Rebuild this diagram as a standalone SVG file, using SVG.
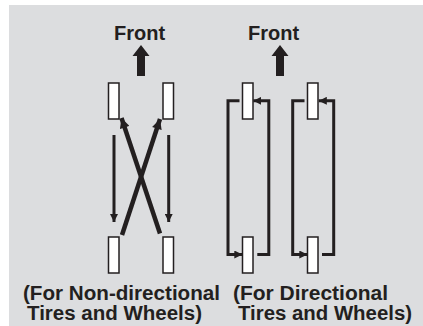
<svg xmlns="http://www.w3.org/2000/svg" width="423" height="326" viewBox="0 0 423 326">
<defs>
<style>
.bg{fill:#dcdddf}
.tire{fill:#ffffff;stroke:#231f20;stroke-width:1.5}
.ln{fill:none;stroke:#231f20;stroke-width:3;stroke-linejoin:miter}
.x{fill:none;stroke:#231f20;stroke-width:4.5}
.ah{fill:#231f20}
.t{font-family:"Liberation Sans",Arial,sans-serif;font-weight:bold;font-size:20px;fill:#231f20}
</style>
<marker id="ahS" viewBox="0 0 10 10" refX="10" refY="5" markerWidth="8" markerHeight="8" markerUnits="userSpaceOnUse" orient="auto">
<path d="M0,0 L10,5 L0,10 Z" class="ah"/>
</marker>
<marker id="ahX" viewBox="0 0 10 10" refX="10" refY="5" markerWidth="11" markerHeight="10" markerUnits="userSpaceOnUse" orient="auto">
<path d="M0,0 L10,5 L0,10 Z" class="ah"/>
</marker>
</defs>
<rect class="bg" x="9" y="5" width="414" height="321"/>

<g id="front-left">
<text class="t" x="139.5" y="40" text-anchor="middle">Front</text>
<path class="ah" d="M141 45 L149.5 56 L145 56 L145 76 L137 76 L137 56 L132.5 56 Z"/>
</g>
<g id="front-right">
<text class="t" x="273.5" y="40" text-anchor="middle">Front</text>
<path class="ah" d="M280 45 L288.5 56 L284 56 L284 76 L276 76 L276 56 L271.5 56 Z"/>
</g>

<g id="nd-tire-fl"><rect class="tire" x="108.5" y="83" width="10.5" height="36"/></g>
<g id="nd-tire-fr"><rect class="tire" x="163" y="83" width="10.5" height="36"/></g>
<g id="nd-tire-rl"><rect class="tire" x="108.5" y="237" width="10.5" height="36"/></g>
<g id="nd-tire-rr"><rect class="tire" x="163" y="237" width="10.5" height="36"/></g>

<g id="d-tire-1f"><rect class="tire" x="242.5" y="83" width="10.5" height="36"/></g>
<g id="d-tire-1r"><rect class="tire" x="242.5" y="237" width="10.5" height="36"/></g>
<g id="d-tire-2f"><rect class="tire" x="307.5" y="83" width="10.5" height="36"/></g>
<g id="d-tire-2r"><rect class="tire" x="307.5" y="237" width="10.5" height="36"/></g>

<g id="connectors">
<line class="ln" x1="114" y1="135" x2="114" y2="222" marker-end="url(#ahS)"/>
<line class="ln" x1="168.7" y1="135" x2="168.7" y2="222" marker-end="url(#ahS)"/>
<line class="x" x1="122" y1="235" x2="160" y2="119" marker-end="url(#ahX)"/>
<line class="x" x1="160" y1="233.5" x2="121.5" y2="118" marker-end="url(#ahX)"/>

<path class="ln" d="M239.5 100.8 H228 V254.5 H242.3" marker-end="url(#ahS)"/>
<path class="ln" d="M257.3 254.5 H268.8 V100.8 H253.3" marker-end="url(#ahS)"/>
<path class="ln" d="M304.5 100.8 H292.7 V254.5 H307.3" marker-end="url(#ahS)"/>
<path class="ln" d="M322 254.5 H333.7 V100.8 H318.8" marker-end="url(#ahS)"/>
</g>

<g id="captions">
<text class="t" x="23" y="300" textLength="197" lengthAdjust="spacingAndGlyphs">(For Non-directional</text>
<text class="t" x="27" y="320" textLength="175" lengthAdjust="spacingAndGlyphs">Tires and Wheels)</text>
<text class="t" x="233" y="300" textLength="155" lengthAdjust="spacingAndGlyphs">(For Directional</text>
<text class="t" x="238" y="320" textLength="174" lengthAdjust="spacingAndGlyphs">Tires and Wheels)</text>
</g>
</svg>
